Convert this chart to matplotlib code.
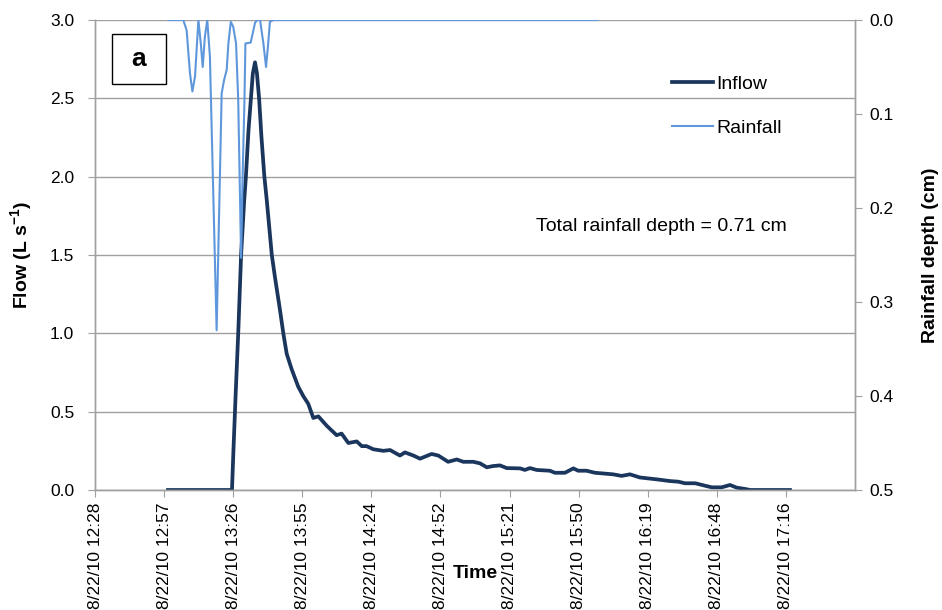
import matplotlib
matplotlib.use("Agg")
import matplotlib.pyplot as plt
from matplotlib.patches import Rectangle
from matplotlib.ticker import FuncFormatter, MultipleLocator

plt.rcParams['font.family'] = ['Liberation Sans', 'DejaVu Sans']
plt.rcParams['mathtext.fontset'] = 'custom'
plt.rcParams['mathtext.rm'] = 'Liberation Sans'
plt.rcParams['mathtext.bf'] = 'Liberation Sans:bold'

# times are minutes after 12:00 on 8/22/10
rain_t = [59.4, 65.6, 67.0, 68.4, 69.4, 70.5, 71.9, 72.9, 73.7, 74.6, 75.6, 76.7,
          79.5, 81.6, 82.6, 83.7, 84.4, 85.4, 86.4, 87.6, 88.5, 89.7, 90.3, 91.1,
          91.5, 93.7, 95.5, 96.4, 97.6, 99.0, 100.1, 101.0, 101.7, 103.1, 238.0]
rain_cm = [0.0, 0.0, 0.011, 0.057, 0.076, 0.060, 0.0, 0.025, 0.050, 0.018, 0.0, 0.039,
           0.330, 0.078, 0.064, 0.053, 0.025, 0.002, 0.007, 0.025, 0.085, 0.253, 0.170, 0.085,
           0.025, 0.024, 0.003, 0.0, 0.0, 0.025, 0.050, 0.025, 0.002, 0.0, 0.0]

flow_t = [59.2, 85.9, 86.5, 87.4, 88.5, 89.7, 91.0, 91.7, 92.8, 93.8, 94.6, 95.5,
          96.3, 97.2, 98.2, 99.4, 100.4, 102.5, 103.8, 105.9, 107.3, 108.7, 110.8, 113.5,
          115.6, 117.7, 119.8, 121.9, 125.4, 129.5, 131.6, 134.4, 137.9, 140.0, 142.0, 144.8,
          149.0, 151.8, 155.9, 158.0, 161.5, 164.3, 169.1, 171.9, 176.0, 179.6, 182.3, 186.5,
          189.3, 192.1, 194.8, 197.6, 200.4, 206.0, 208.0, 210.1, 212.9, 218.4, 220.5, 224.7,
          228.2, 230.2, 233.7, 237.2, 244.8, 248.3, 251.8, 255.9, 262.9, 268.5, 272.0, 274.7,
          279.0, 282.4, 285.9, 290.0, 293.5, 296.3, 300.4, 301.8, 318.5]
flow_ls = [0.0, 0.0, 0.25, 0.60, 1.00, 1.50, 1.85, 2.00, 2.30, 2.50, 2.66, 2.73,
           2.66, 2.50, 2.25, 2.00, 1.85, 1.50, 1.36, 1.15, 1.00, 0.87, 0.77, 0.66,
           0.60, 0.55, 0.46, 0.47, 0.41, 0.35, 0.36, 0.30, 0.31, 0.28, 0.28, 0.26,
           0.25, 0.255, 0.22, 0.24, 0.22, 0.20, 0.23, 0.22, 0.18, 0.195, 0.18, 0.18,
           0.17, 0.145, 0.153, 0.157, 0.14, 0.138, 0.128, 0.14, 0.128, 0.123, 0.11, 0.11,
           0.138, 0.123, 0.123, 0.11, 0.10, 0.09, 0.10, 0.08, 0.068, 0.057, 0.053, 0.043,
           0.043, 0.03, 0.017, 0.017, 0.032, 0.015, 0.005, 0.0, 0.0]

# x axis: Excel date axis, 0.02 day steps from 12:28:48
x_start = 28.8
x_step = 28.8
x_ticks = [x_start + x_step * k for k in range(11)]

grey = '#a0a0a0'
inflow_col = '#1b365d'
rain_col = '#5f97dc'

fig = plt.figure(figsize=(9.42, 6.10), dpi=100)
ax = fig.add_axes([95 / 942, 120 / 610, 760 / 942, 470 / 610])
ax2 = ax.twinx()

l1, = ax.plot(flow_t, flow_ls, color=inflow_col, lw=2.7, label='Inflow',
              solid_joinstyle='round')
l2, = ax2.plot(rain_t, rain_cm, color=rain_col, lw=1.5, label='Rainfall',
               solid_joinstyle='round')

ax.set_xlim(x_start, x_start + 11 * x_step)
ax.set_ylim(0, 3)
ax2.set_ylim(0.5, 0)

ax.yaxis.set_major_locator(MultipleLocator(0.5))
ax.yaxis.set_major_formatter(FuncFormatter(lambda v, p: '%.1f' % v))
ax2.yaxis.set_major_locator(MultipleLocator(0.1))
ax2.yaxis.set_major_formatter(FuncFormatter(lambda v, p: '%.1f' % abs(v)))
ax.set_xticks(x_ticks)


def time_label(v, pos):
    m = int(v + 1e-6)
    return '8/22/10 %d:%02d' % (12 + m // 60, m % 60)


ax.xaxis.set_major_formatter(FuncFormatter(time_label))

ax.grid(axis='y', color=grey, lw=1.0)
ax.set_axisbelow(True)

for a in (ax, ax2):
    for side in ('left', 'right', 'bottom'):
        a.spines[side].set_color(grey)
        a.spines[side].set_linewidth(1.0)
    a.spines['top'].set_visible(False)

ax.tick_params(axis='y', length=5, color=grey, labelsize=12.5, pad=10)
ax2.tick_params(axis='y', length=5, color=grey, labelsize=12.5, pad=5)
ax.tick_params(axis='x', length=5, color=grey, labelsize=12.5, pad=4,
               labelrotation=90)

ax.set_ylabel(r'Flow (L s$^{\mathbf{-1}}$)', fontsize=14, fontweight='bold',
              va='center', ha='center')
ax.yaxis.set_label_coords(-0.096, 0.5)
ax2.set_ylabel('Rainfall depth (cm)', fontsize=14, fontweight='bold',
               va='center', ha='center', rotation=90)
ax2.yaxis.set_label_coords(1.099, 0.5)
ax.set_xlabel('Time', fontsize=14, fontweight='bold', va='center')
ax.xaxis.set_label_coords(0.5, -0.177)

ax2.legend(handles=[l1, l2], loc='upper left', bbox_to_anchor=(0.759, 0.882),
           frameon=False, fontsize=14, handlelength=2.1, handletextpad=0.2,
           labelspacing=1.36, borderpad=0, borderaxespad=0)

ax2.text(0.580, 0.560, 'Total rainfall depth = 0.71 cm', transform=ax.transAxes,
         fontsize=14, va='center', ha='left')

# panel tag
ax2.add_patch(Rectangle((0.0224, 0.8638), 0.0711, 0.1064, transform=ax.transAxes,
                        facecolor='white', edgecolor='black', lw=1.0, zorder=5))
ax2.text(0.0572, 0.917, 'a', transform=ax.transAxes, fontsize=19,
         fontweight='bold', ha='center', va='center', zorder=6)

fig.savefig('out.png', dpi=100)
